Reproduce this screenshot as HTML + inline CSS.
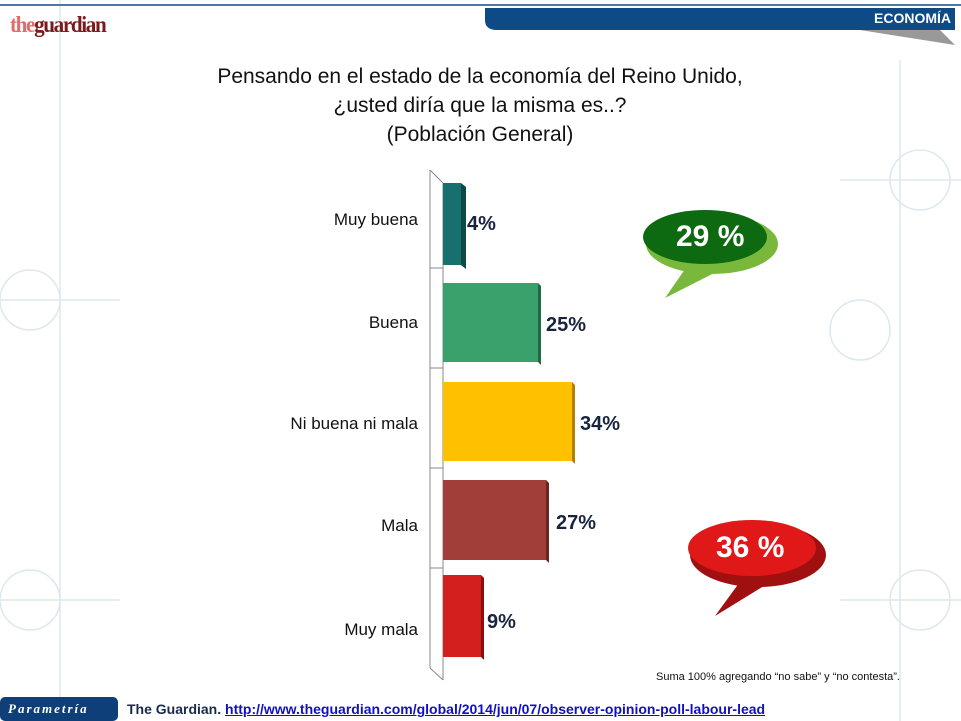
<!DOCTYPE html>
<html><head><meta charset="utf-8"><style>
body{margin:0;width:961px;height:721px;overflow:hidden;background:#fff;font-family:"Liberation Sans",sans-serif;position:relative}
.a{position:absolute}
.lab{position:absolute;right:543px;font-size:17px;color:#111;text-align:right;white-space:nowrap}
.val{position:absolute;font-size:20px;font-weight:bold;color:#1a2440}
</style></head><body>
<svg class="a" style="left:0;top:0" width="961" height="721">
<g stroke="#dde8ee" stroke-width="1.5" fill="none">
<circle cx="30" cy="300" r="30"/><circle cx="30" cy="600" r="30"/><circle cx="920" cy="180" r="30"/><circle cx="920" cy="600" r="30"/><circle cx="860" cy="330" r="30"/>
<line x1="0" y1="300" x2="120" y2="300"/><line x1="0" y1="600" x2="120" y2="600"/><line x1="840" y1="180" x2="961" y2="180"/><line x1="840" y1="600" x2="961" y2="600"/>
<line x1="60" y1="0" x2="60" y2="721"/><line x1="900" y1="60" x2="900" y2="721"/>
</g>
<line x1="0" y1="5" x2="961" y2="5" stroke="#4a78a8" stroke-width="2"/>
<path d="M485 8 H955 V30 H497 Q485 30 485 20 Z" fill="#0e4a86"/>
<path d="M860 30 H940 L955 45 Z" fill="#999"/>
<line x1="430" y1="170" x2="430" y2="668" stroke="#888"/>
<line x1="443" y1="183" x2="443" y2="680" stroke="#888"/>
<line x1="430" y1="170" x2="443" y2="183" stroke="#888"/>
<line x1="430" y1="668" x2="443" y2="680" stroke="#888"/>
<g stroke="#888"><line x1="430" y1="268" x2="443" y2="268"/><line x1="430" y1="368" x2="443" y2="368"/><line x1="430" y1="468" x2="443" y2="468"/><line x1="430" y1="568" x2="443" y2="568"/></g>
<rect x="443" y="183" width="18" height="82" fill="#17706e"/><path d="M461 183 l5 4 v82 l-5 -4z" fill="#0c4a48"/>
<rect x="443" y="283" width="95" height="79" fill="#3aa06c"/><path d="M538 283 l3 3 v79 l-3 -3z" fill="#1f6a42"/>
<rect x="443" y="382" width="129" height="79" fill="#ffc000"/><path d="M572 382 l3 3 v79 l-3 -3z" fill="#b08400"/>
<rect x="443" y="480" width="103" height="80" fill="#a23e3a"/><path d="M546 480 l3 3 v80 l-3 -3z" fill="#6a2422"/>
<rect x="443" y="575" width="38" height="82" fill="#d41f1f"/><path d="M481 575 l3 3 v82 l-3 -3z" fill="#8a1010"/>
<path d="M690 262 L665 298 L730 265 Z" fill="#7ab83c"/>
<ellipse cx="712" cy="244" rx="66" ry="30" fill="#7ab83c"/>
<ellipse cx="705" cy="237" rx="62" ry="27" fill="#0d6a10"/>
<path d="M750 568 L715 616 L790 570 Z" fill="#a01010"/>
<ellipse cx="758" cy="555" rx="68" ry="32" fill="#a01010"/>
<ellipse cx="752" cy="548" rx="64" ry="28" fill="#e01818"/>
<rect x="0" y="697" width="118" height="24" rx="5" fill="#0e3f78"/>
</svg>
<div class="a" style="left:10px;top:12px;font-family:'Liberation Serif',serif;font-weight:bold;font-size:23px;letter-spacing:-1.5px;transform:scaleX(0.92);transform-origin:left"><span style="color:#e06c6c">the</span><span style="color:#7a1a1a">guardian</span></div>
<div class="a" style="right:10px;top:10px;color:#fff;font-weight:bold;font-size:14px">ECONOMÍA</div>
<div class="a" style="left:160px;width:640px;top:62px;text-align:center;font-size:21px;line-height:29px;color:#111">Pensando en el estado de la economía del Reino Unido,<br>¿usted diría que la misma es..?<br>(Población General)</div>
<div class="lab" style="top:210px">Muy buena</div>
<div class="lab" style="top:313px">Buena</div>
<div class="lab" style="top:414px">Ni buena ni mala</div>
<div class="lab" style="top:516px">Mala</div>
<div class="lab" style="top:620px">Muy mala</div>
<div class="val" style="left:467px;top:213px">4%</div>
<div class="val" style="left:546px;top:314px">25%</div>
<div class="val" style="left:580px;top:413px">34%</div>
<div class="val" style="left:556px;top:512px">27%</div>
<div class="val" style="left:487px;top:611px">9%</div>
<div class="a" style="left:676px;top:220px;color:#fff;font-weight:bold;font-size:30px">29 %</div>
<div class="a" style="left:716px;top:531px;color:#fff;font-weight:bold;font-size:30px">36 %</div>
<div class="a" style="left:656px;top:671px;font-size:11px;color:#111">Suma 100% agregando “no sabe” y “no contesta”.</div>
<div class="a" style="left:8px;top:701px;color:#fff;font-family:'Liberation Serif',serif;font-style:italic;font-weight:bold;font-size:13px;letter-spacing:2px">Parametría</div>
<div class="a" style="left:127px;top:701px;font-size:14px;font-weight:bold;color:#1a2a4a">The Guardian. <a style="color:#1010c0;text-decoration:underline">http://www.theguardian.com/global/2014/jun/07/observer-opinion-poll-labour-lead</a></div>
</body></html>
